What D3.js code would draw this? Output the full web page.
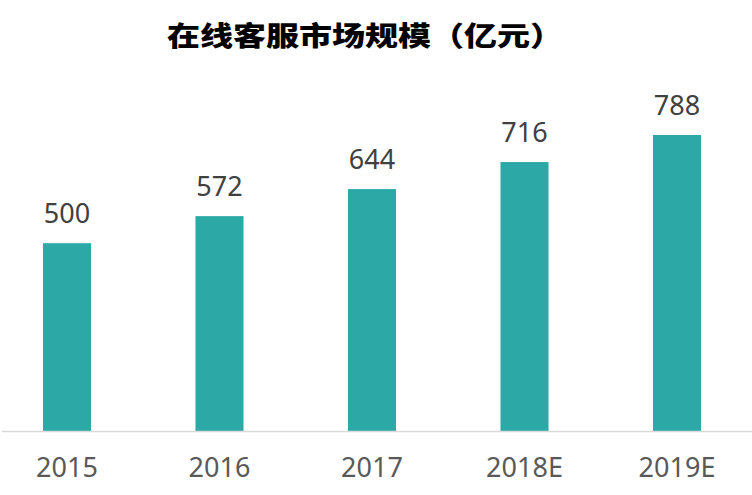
<!DOCTYPE html>
<html>
<head>
<meta charset="utf-8">
<script src="https://cdn.jsdelivr.net/npm/d3@7"></script>
<style>
  body { margin: 0; background: #fff; }
</style>
</head>
<body>
<div id="chart"></div>
<script>
const years = ["2015", "2016", "2017", "2018E", "2019E"];
const values = [500, 572, 644, 716, 788];
const titleText = "在线客服市场规模（亿元）";

const width = 752, height = 495;
const baseY = 431;

const svg = d3.select("#chart").append("svg")
  .attr("width", width)
  .attr("height", height);

// scales
const x = d3.scaleBand()
  .domain(years)
  .range([-9.25, 753.25])
  .paddingInner(0.685)
  .paddingOuter(0.3425);

const y = d3.scaleLinear()
  .domain([0, 800])
  .range([baseY, 130.5]);

// title
svg.append("text")
  .attr("transform", "translate(365,46) scale(1.2,1)")
  .attr("text-anchor", "middle")
  .style("font-family", "'Noto Sans CJK SC', sans-serif")
  .style("font-weight", 900)
  .style("font-size", "27.5px")
  .style("fill", "#000")
  .text(titleText);

// bars
svg.append("g").selectAll("rect")
  .data(values)
  .enter().append("rect")
  .attr("x", (d, i) => x(years[i]))
  .attr("y", d => y(d))
  .attr("width", x.bandwidth())
  .attr("height", d => baseY - y(d))
  .attr("fill", "#2ca8a6");

// value labels
svg.append("g").selectAll("text")
  .data(values)
  .enter().append("text")
  .attr("x", (d, i) => x(years[i]) + x.bandwidth() / 2)
  .attr("y", d => y(d) - 20)
  .attr("text-anchor", "middle")
  .style("font-family", "'Noto Sans', sans-serif")
  .style("font-size", "27px")
  .style("fill", "#404040")
  .text(d => d);

// axis
const axis = svg.append("g")
  .attr("transform", "translate(0," + baseY + ")")
  .call(d3.axisBottom(x).tickSize(0).tickPadding(0));
axis.select(".domain").remove();
axis.append("line")
  .attr("x1", 2).attr("x2", width)
  .attr("y1", 0.5).attr("y2", 0.5)
  .attr("stroke", "#d9d9d9")
  .attr("stroke-width", 1.5);
axis.selectAll(".tick text")
  .attr("y", 46)
  .attr("dy", null)
  .style("font-family", "'Noto Sans', sans-serif")
  .style("font-size", "27px")
  .style("fill", "#595959");
</script>
</body>
</html>
